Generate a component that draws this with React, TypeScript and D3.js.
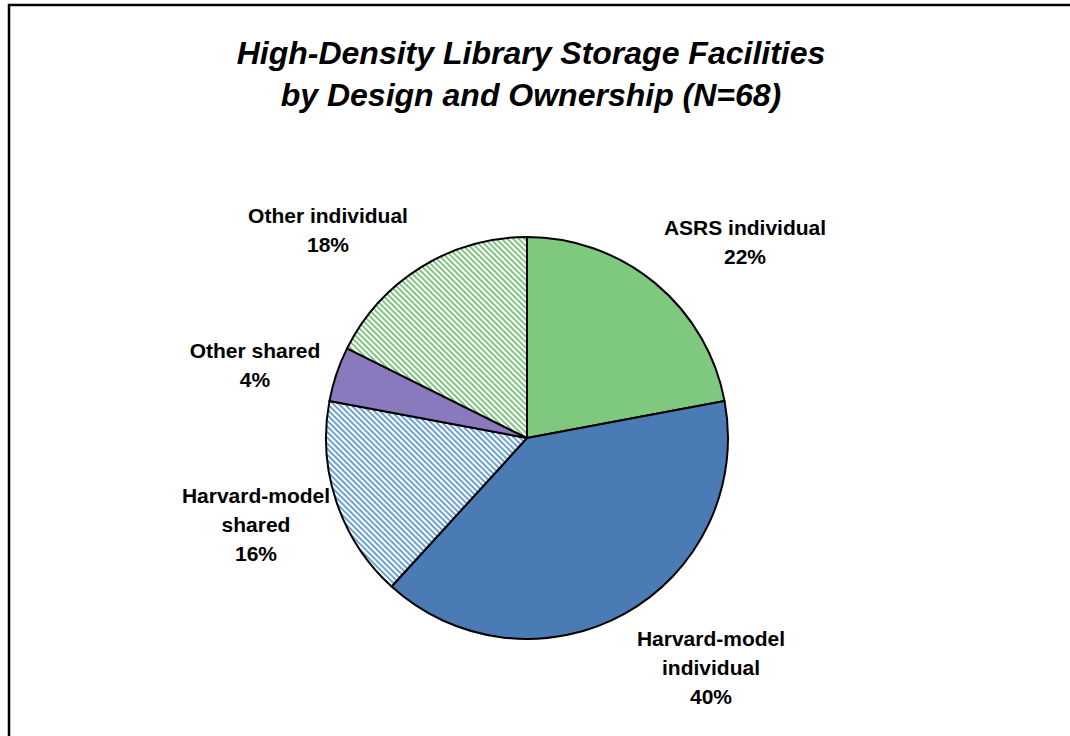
import { useRef, useEffect } from 'react'
import * as d3 from 'd3'

// facility counts per category (N = 68), clockwise from 12 o'clock
const categories = [
  'ASRS individual',
  'Harvard-model individual',
  'Harvard-model shared',
  'Other shared',
  'Other individual',
]
const counts = [15, 27, 11, 3, 12]
const labelLines = [
  ['ASRS individual'],
  ['Harvard-model', 'individual'],
  ['Harvard-model', 'shared'],
  ['Other shared'],
  ['Other individual'],
]
const titleLines = ['High-Density Library Storage Facilities', 'by Design and Ownership (N=68)']

// styling per slice: solid fill or hatched
const fills = ['#7fc97f', '#4a7bb5', 'url(#hatchBlue)', '#8b79bd', 'url(#hatchGreen)']
// label anchor offsets from the pie centre (first baseline)
const labelOffsets = [
  [218, -203],
  [184, 208],
  [-271, 65],
  [-272, -80],
  [-199, -215],
]

const App = () => {
  const chartRef = useRef<SVGSVGElement>(null)

  useEffect(() => {
    drawChart()
  }, [])

  const drawChart = () => {
    const svg = d3.select(chartRef.current)
    svg.selectAll('*').remove()
    const width = 1070
    const cx = 527
    const cy = 438
    const radius = 201
    const font = '"Liberation Sans", Arial, sans-serif'

    const defs = svg.append('defs')
    const hatch = (id: string, color: string) => {
      const p = defs.append('pattern')
        .attr('id', id)
        .attr('patternUnits', 'userSpaceOnUse')
        .attr('width', 4)
        .attr('height', 4)
        .attr('patternTransform', 'rotate(45)')
      p.append('rect').attr('width', 4).attr('height', 4).attr('fill', '#fff')
      p.append('line')
        .attr('x1', 0).attr('x2', 4).attr('y1', 1).attr('y2', 1)
        .attr('stroke', color).attr('stroke-width', 1.8)
    }
    hatch('hatchBlue', '#5c98d0')
    hatch('hatchGreen', '#74bf74')

    // frame
    svg.append('path')
      .attr('d', `M9,${736 + 10} V5 H${width + 10}`)
      .attr('fill', 'none')
      .attr('stroke', '#000')
      .attr('stroke-width', 2.5)

    svg.append('text')
      .attr('x', 531)
      .attr('font-family', font)
      .attr('font-size', 32)
      .attr('font-weight', 'bold')
      .attr('font-style', 'italic')
      .attr('text-anchor', 'middle')
      .selectAll('tspan')
      .data(titleLines)
      .enter().append('tspan')
      .attr('x', 531)
      .attr('y', (d, i) => 64 + i * 42)
      .text((d) => d)

    const pie = d3.pie<number>().sort(null).value((d) => d)
    const arcs = pie(counts)
    const arc = d3.arc<d3.PieArcDatum<number>>().innerRadius(0).outerRadius(radius)

    const g = svg.append('g').attr('transform', `translate(${cx},${cy})`)
    g.selectAll('path')
      .data(arcs)
      .enter().append('path')
      .attr('d', arc)
      .attr('fill', (d, i) => fills[i])
      .attr('stroke', '#000')
      .attr('stroke-width', 2)
      .attr('stroke-linejoin', 'round')

    const total = d3.sum(counts)
    const labels = g.selectAll('text.lbl')
      .data(arcs)
      .enter().append('text')
      .attr('class', 'lbl')
      .attr('font-family', font)
      .attr('font-size', 21)
      .attr('font-weight', 'bold')
      .attr('text-anchor', 'middle')
      .attr('fill', '#000')

    labels.each(function (d, i) {
      const t = d3.select(this)
      const [dx, dy] = labelOffsets[i]
      const lines = [...labelLines[i], `${Math.round((d.value / total) * 100)}%`]
      lines.forEach((line, j) => {
        t.append('tspan')
          .attr('x', dx)
          .attr('y', dy + j * 29)
          .text(line)
      })
    })
  }

  return (
    <svg
      ref={chartRef}
      width={1070}
      height={736}
      style={{ position: 'absolute', left: 0, top: 0, background: '#fff' }}
    ></svg>
  )
}

export default App
